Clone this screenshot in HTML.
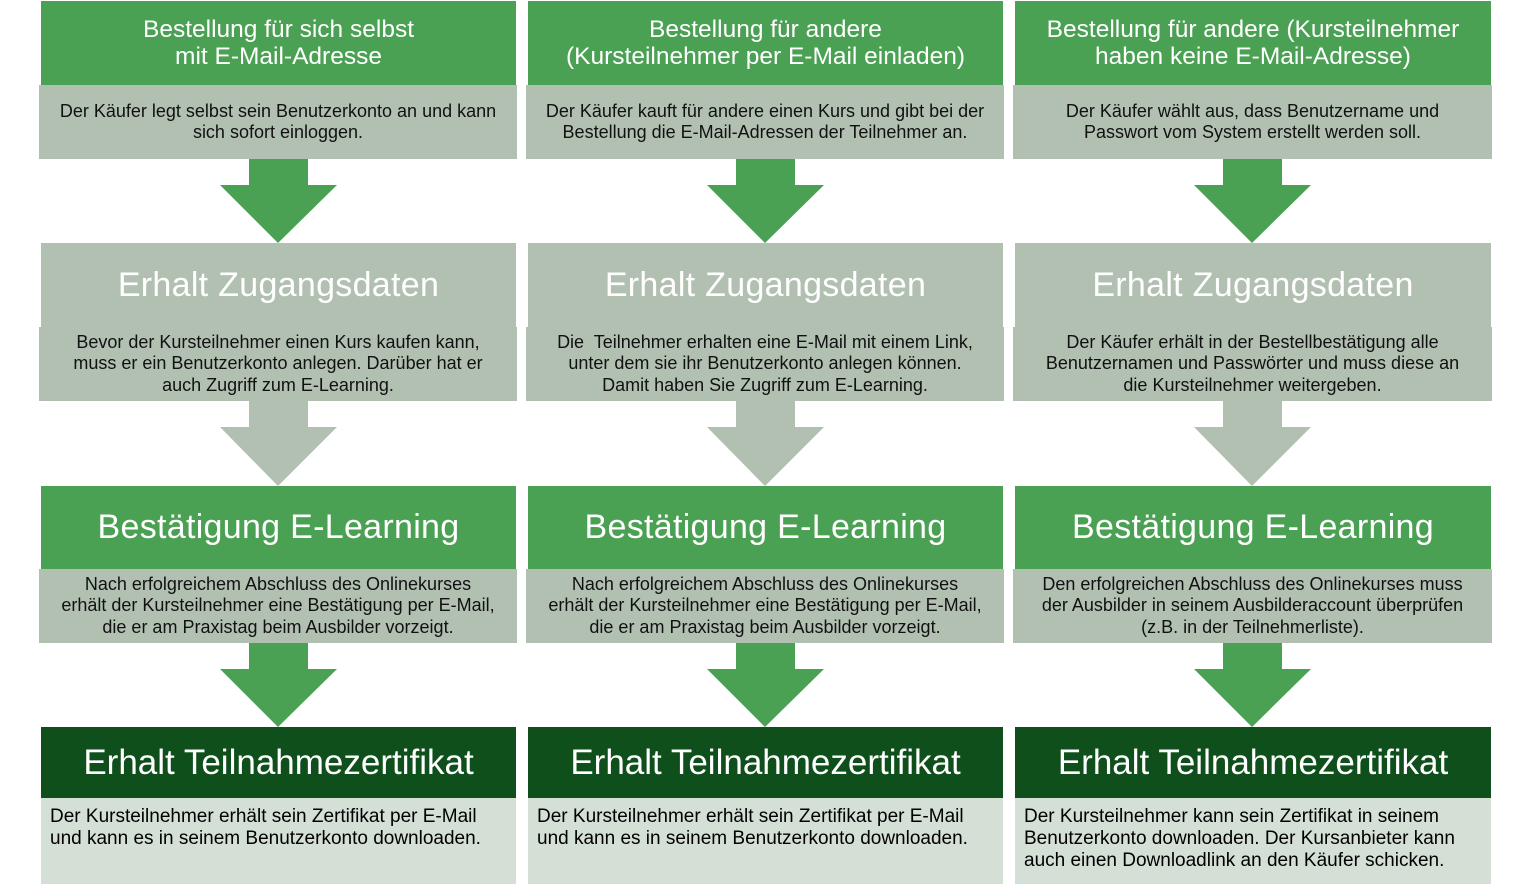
<!DOCTYPE html>
<html><head><meta charset="utf-8"><style>
*{margin:0;padding:0;box-sizing:border-box}
body{width:1536px;height:889px;background:#fff;position:relative;overflow:hidden;font-family:"Liberation Sans",sans-serif}
.b{position:absolute;display:flex;align-items:center;justify-content:center;text-align:center;white-space:nowrap}
.g{background:#4ba153;color:#fff}
.s{background:#b2c0b2;color:#fff}
.d{background:#0f4f1b;color:#fff}
.desc{background:#b2c0b2;color:#111;font-size:18px;line-height:21.5px}
.l{background:#d4dfd6;color:#000;font-size:19px;line-height:22px;text-align:left;justify-content:flex-start;align-items:flex-start;padding:8px 9px}
.h1{font-size:24.5px;line-height:27px}
.h2{font-size:34px;letter-spacing:0.3px}
.h3{font-size:35px}
svg{position:absolute}
</style></head><body>

<div class="b g h1" style="left:41px;top:1px;width:475px;height:84px">Bestellung für sich selbst<br>mit E-Mail-Adresse</div>
<div class="b desc" style="left:39px;top:85px;width:478px;height:74px">Der Käufer legt selbst sein Benutzerkonto an und kann<br>sich sofort einloggen.</div>
<div class="b s h2" style="left:41px;top:243px;width:475px;height:84px">Erhalt Zugangsdaten</div>
<div class="b desc" style="left:39px;top:327px;width:478px;height:74px">Bevor der Kursteilnehmer einen Kurs kaufen kann,<br>muss er ein Benutzerkonto anlegen. Darüber hat er<br>auch Zugriff zum E-Learning.</div>
<div class="b g h2" style="left:41px;top:486px;width:475px;height:83px">Bestätigung E-Learning</div>
<div class="b desc" style="left:39px;top:569px;width:478px;height:74px">Nach erfolgreichem Abschluss des Onlinekurses<br>erhält der Kursteilnehmer eine Bestätigung per E-Mail,<br>die er am Praxistag beim Ausbilder vorzeigt.</div>
<div class="b d h3" style="left:41px;top:727px;width:475px;height:71px">Erhalt Teilnahmezertifikat</div>
<div class="b l" style="left:41px;top:798px;width:475px;height:86px">Der Kursteilnehmer erhält sein Zertifikat per E-Mail<br>und kann es in seinem Benutzerkonto downloaden.</div>

<div class="b g h1" style="left:528px;top:1px;width:475px;height:84px">Bestellung für andere<br>(Kursteilnehmer per E-Mail einladen)</div>
<div class="b desc" style="left:526px;top:85px;width:478px;height:74px">Der Käufer kauft für andere einen Kurs und gibt bei der<br>Bestellung die E-Mail-Adressen der Teilnehmer an.</div>
<div class="b s h2" style="left:528px;top:243px;width:475px;height:84px">Erhalt Zugangsdaten</div>
<div class="b desc" style="left:526px;top:327px;width:478px;height:74px">Die&nbsp; Teilnehmer erhalten eine E-Mail mit einem Link,<br>unter dem sie ihr Benutzerkonto anlegen können.<br>Damit haben Sie Zugriff zum E-Learning.</div>
<div class="b g h2" style="left:528px;top:486px;width:475px;height:83px">Bestätigung E-Learning</div>
<div class="b desc" style="left:526px;top:569px;width:478px;height:74px">Nach erfolgreichem Abschluss des Onlinekurses<br>erhält der Kursteilnehmer eine Bestätigung per E-Mail,<br>die er am Praxistag beim Ausbilder vorzeigt.</div>
<div class="b d h3" style="left:528px;top:727px;width:475px;height:71px">Erhalt Teilnahmezertifikat</div>
<div class="b l" style="left:528px;top:798px;width:475px;height:86px">Der Kursteilnehmer erhält sein Zertifikat per E-Mail<br>und kann es in seinem Benutzerkonto downloaden.</div>

<div class="b g h1" style="left:1015px;top:1px;width:476px;height:84px">Bestellung für andere (Kursteilnehmer<br>haben keine E-Mail-Adresse)</div>
<div class="b desc" style="left:1013px;top:85px;width:479px;height:74px">Der Käufer wählt aus, dass Benutzername und<br>Passwort vom System erstellt werden soll.</div>
<div class="b s h2" style="left:1015px;top:243px;width:476px;height:84px">Erhalt Zugangsdaten</div>
<div class="b desc" style="left:1013px;top:327px;width:479px;height:74px">Der Käufer erhält in der Bestellbestätigung alle<br>Benutzernamen und Passwörter und muss diese an<br>die Kursteilnehmer weitergeben.</div>
<div class="b g h2" style="left:1015px;top:486px;width:476px;height:83px">Bestätigung E-Learning</div>
<div class="b desc" style="left:1013px;top:569px;width:479px;height:74px">Den erfolgreichen Abschluss des Onlinekurses muss<br>der Ausbilder in seinem Ausbilderaccount überprüfen<br>(z.B. in der Teilnehmerliste).</div>
<div class="b d h3" style="left:1015px;top:727px;width:476px;height:71px">Erhalt Teilnahmezertifikat</div>
<div class="b l" style="left:1015px;top:798px;width:476px;height:86px">Der Kursteilnehmer kann sein Zertifikat in seinem<br>Benutzerkonto downloaden. Der Kursanbieter kann<br>auch einen Downloadlink an den Käufer schicken.</div>

<svg width="1536" height="889" style="left:0;top:0">
<g fill="#4ba153">
<polygon points="249,159 308,159 308,185 337,185 278,243 220,185 249,185"/>
<polygon points="736,159 795,159 795,185 824,185 765,243 707,185 736,185"/>
<polygon points="1223,159 1282,159 1282,185 1311,185 1252,243 1194,185 1223,185"/>
<polygon points="249,643 308,643 308,669 337,669 278,727 220,669 249,669"/>
<polygon points="736,643 795,643 795,669 824,669 765,727 707,669 736,669"/>
<polygon points="1223,643 1282,643 1282,669 1311,669 1252,727 1194,669 1223,669"/>
</g>
<g fill="#b2c0b2">
<polygon points="249,401 308,401 308,427 337,427 278,486 220,427 249,427"/>
<polygon points="736,401 795,401 795,427 824,427 765,486 707,427 736,427"/>
<polygon points="1223,401 1282,401 1282,427 1311,427 1252,486 1194,427 1223,427"/>
</g>
</svg>
</body></html>
